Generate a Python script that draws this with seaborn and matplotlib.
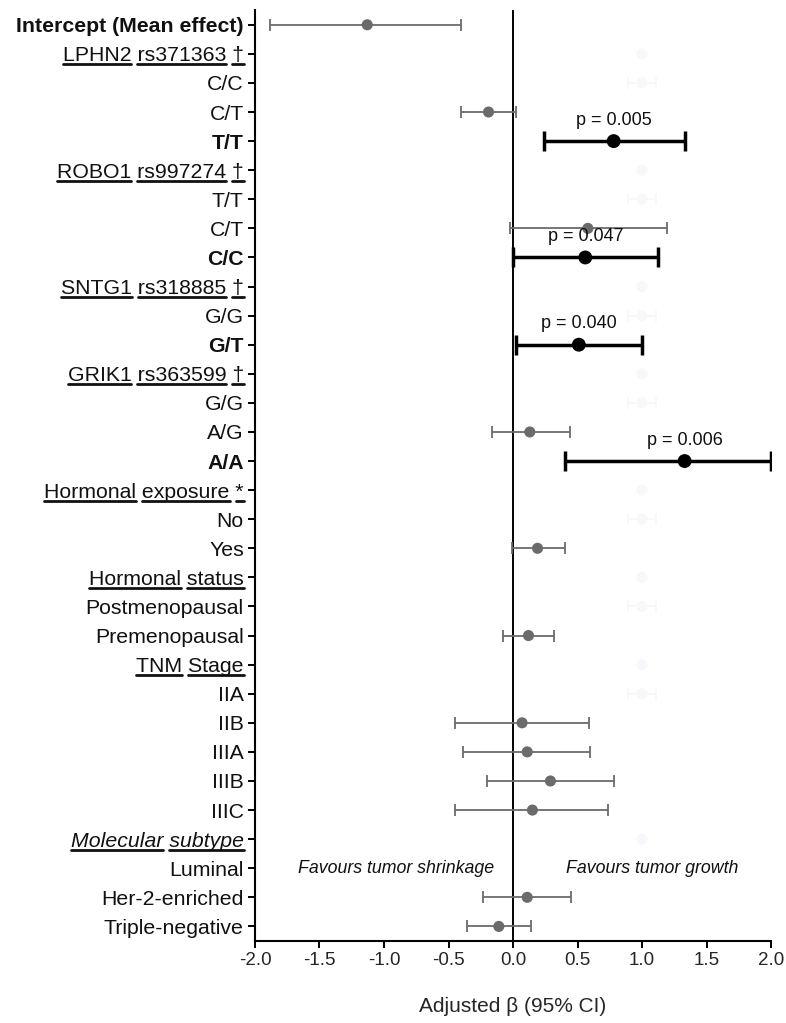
import numpy as np
import pandas as pd
import matplotlib
matplotlib.use("Agg")
import matplotlib.pyplot as plt
from matplotlib.lines import Line2D
import seaborn as sns

labels = ["Intercept (Mean effect)", "LPHN2 rs371363 \u2020", "C/C", "C/T", "T/T",
          "ROBO1 rs997274 \u2020", "T/T", "C/T", "C/C",
          "SNTG1 rs318885 \u2020", "G/G", "G/T",
          "GRIK1 rs363599 \u2020", "G/G", "A/G", "A/A",
          "Hormonal exposure *", "No", "Yes",
          "Hormonal status", "Postmenopausal", "Premenopausal",
          "TNM Stage", "IIA", "IIB", "IIIA", "IIIB", "IIIC",
          "Molecular subtype", "Luminal", "Her-2-enriched", "Triple-negative"]
row_type = ["intercept", "header", "ref", "est", "sig",
            "header", "ref", "est", "sig",
            "header", "ref", "sig",
            "header", "ref", "est", "sig",
            "header", "ref", "est",
            "header", "ref", "est",
            "header", "ref", "est", "est", "est", "est",
            "header", "ref", "est", "est"]
estimate = [-1.13, 1.0, 1.0, -0.19, 0.78,
            1.0, 1.0, 0.58, 0.56,
            1.0, 1.0, 0.51,
            1.0, 1.0, 0.13, 1.33,
            1.0, 1.0, 0.19,
            1.0, 1.0, 0.12,
            1.0, 1.0, 0.07, 0.11, 0.29, 0.15,
            1.0, 1.0, 0.11, -0.11]
lower = [-1.88, np.nan, 0.89, -0.40, 0.24,
         np.nan, 0.89, -0.02, 0.00,
         np.nan, 0.89, 0.02,
         np.nan, 0.89, -0.16, 0.40,
         np.nan, 0.89, -0.01,
         np.nan, 0.89, -0.08,
         np.nan, 0.89, -0.45, -0.39, -0.20, -0.45,
         np.nan, 0.89, -0.23, -0.36]
upper = [-0.40, np.nan, 1.11, 0.02, 1.33,
         np.nan, 1.11, 1.19, 1.12,
         np.nan, 1.11, 1.00,
         np.nan, 1.11, 0.44, 2.00,
         np.nan, 1.11, 0.40,
         np.nan, 1.11, 0.32,
         np.nan, 1.11, 0.59, 0.60, 0.78, 0.74,
         np.nan, 1.11, 0.45, 0.14]
p_labels = {4: "p = 0.005", 8: "p = 0.047", 11: "p = 0.040", 15: "p = 0.006"}
italic_rows = [28]

df = pd.DataFrame({"label": labels, "type": row_type, "est": estimate,
                   "lo": lower, "hi": upper})
df["row"] = np.arange(len(df))

sns.set_style("ticks")
plt.rcParams["font.family"] = ["Liberation Sans", "DejaVu Sans"]

fig = plt.figure(figsize=(7.86, 10.23), dpi=100)
ax = fig.add_axes([0.3244, 0.0802, 0.6566, 0.9098])

gray = "#6b6b6b"
ghost = "#f7f7fc"
style = {"intercept": dict(color=gray, lw=1.3, ms=8, cap=4, capw=1.3),
         "est": dict(color=gray, lw=1.3, ms=8, cap=4, capw=1.3),
         "sig": dict(color="black", lw=2.5, ms=10, cap=7, capw=2.5),
         "ref": dict(color=ghost, lw=1.3, ms=8, cap=4, capw=1.3),
         "header": dict(color=ghost, lw=1.3, ms=8, cap=4, capw=1.3)}

for t, sub in df.groupby("type"):
    s = style[t]
    ok = sub.dropna(subset=["lo", "hi"])
    if len(ok):
        ax.errorbar(ok["est"], ok["row"],
                    xerr=[ok["est"] - ok["lo"], ok["hi"] - ok["est"]],
                    fmt="none", ecolor=s["color"], elinewidth=s["lw"],
                    capsize=s["cap"], capthick=s["capw"], zorder=2)
    sns.scatterplot(x="est", y="row", data=sub, ax=ax, color=s["color"],
                    s=s["ms"] ** 2, edgecolor="none", legend=False, zorder=3)

for r, txt in p_labels.items():
    ax.text(estimate[r], r - 0.42, txt, ha="center", va="bottom", fontsize=13,
            color="#111111")

ax.axvline(0, color="black", lw=1.4, zorder=1)
ax.text(-0.91, 29, "Favours tumor shrinkage", ha="center", va="center",
        fontsize=12.8, style="italic", color="#111111")
ax.text(1.08, 29, "Favours tumor growth", ha="center", va="center",
        fontsize=12.8, style="italic", color="#111111")

ax.set_xlim(-2.0, 2.0)
ax.set_ylim(31.5, -0.5)
ax.set_xticks(np.arange(-2.0, 2.01, 0.5))
ax.set_xticklabels([f"{v:.1f}" for v in np.arange(-2.0, 2.01, 0.5)], fontsize=13.5)
ax.set_yticks(df["row"])
ax.set_yticklabels(labels, fontsize=15.3)
ax.set_xlabel("Adjusted \u03b2 (95% CI)", fontsize=15, labelpad=20)
ax.set_ylabel("")
ax.tick_params(axis="both", direction="out", length=5, width=1.4, color="black",
               pad=3)
for sp in ["top", "right"]:
    ax.spines[sp].set_visible(False)
for sp in ["left", "bottom"]:
    ax.spines[sp].set_linewidth(1.5)
    ax.spines[sp].set_color("black")

ticklabels = ax.get_yticklabels()
for i, tl in enumerate(ticklabels):
    if row_type[i] in ("intercept", "sig"):
        tl.set_fontweight("bold")
    if i in italic_rows:
        tl.set_fontstyle("italic")
    tl.set_color("#111111")

fig.canvas.draw()
renderer = fig.canvas.get_renderer()
inv = fig.transFigure.inverted()
for i, tl in enumerate(ax.get_yticklabels()):
    if row_type[i] != "header":
        continue
    text = tl.get_text()
    fp = tl.get_fontproperties()
    bb = tl.get_window_extent(renderer)
    full_w, _, _ = renderer.get_text_width_height_descent(text, fp, ismath=False)
    x0 = bb.x1 - full_w
    words = text.split(" ")
    pos = 0
    for w in words:
        pre = text[:pos]
        pw = renderer.get_text_width_height_descent(pre, fp, ismath=False)[0] if pre else 0
        ww = renderer.get_text_width_height_descent(w, fp, ismath=False)[0]
        xs, xe = x0 + pw, x0 + pw + ww
        yv = bb.y0 + 1.0
        (fx0, fy), (fx1, _) = inv.transform([(xs, yv), (xe, yv)])
        fig.add_artist(Line2D([fx0, fx1], [fy, fy], color="#111111", lw=2.0))
        pos += len(w) + 1

fig.savefig("out.png", dpi=100)
